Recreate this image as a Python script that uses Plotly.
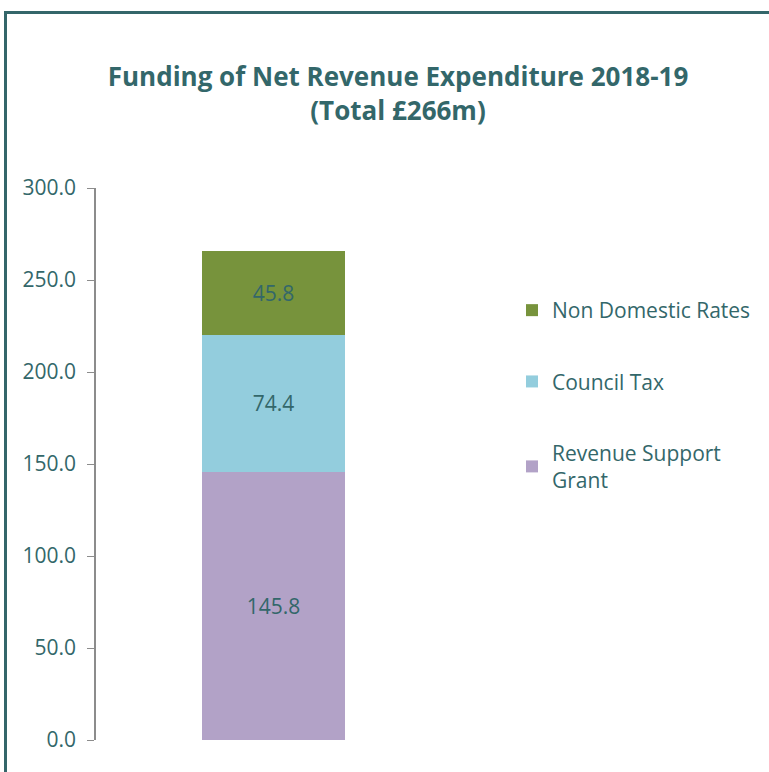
import plotly.graph_objects as go

categories = ["2018-19"]
series_names = ["Revenue Support<br>Grant", "Council Tax", "Non Domestic Rates"]
series_values = [[145.8], [74.4], [45.8]]
series_colors = ["#B2A2C7", "#93CDDD", "#77933C"]
y_ticks = [0, 50, 100, 150, 200, 250, 300]

TEXT = "#33676A"
FONT = "'Open Sans', sans-serif"

W, H = 769, 772
L, R, T, B = 96, 318, 188, 32
pw, ph = W - L - R, H - T - B

def px_x(p):
    return (p - L) / pw

def px_y(p):
    return (H - B - p) / ph

fig = go.Figure()
n = len(series_names)
for i, (name, vals, col) in enumerate(zip(series_names, series_values, series_colors)):
    fig.add_trace(go.Bar(
        x=categories, y=vals, name=name, marker_color=col, marker_line_width=0,
        text=[f"{v:.1f}" for v in vals], textposition="inside", insidetextanchor="middle",
        textfont=dict(color=TEXT, size=21, family=FONT), width=0.403,
        legendgroup=str(i), legendrank=n - i,
    ))

fig.update_layout(
    width=W, height=H, barmode="stack",
    margin=dict(l=L, r=R, t=T, b=B, autoexpand=False),
    paper_bgcolor="white", plot_bgcolor="white",
    font=dict(family=FONT, color=TEXT, size=21),
    title=dict(text="<b>Funding of Net Revenue Expenditure 2018-19<br>(Total £266m)</b>",
               x=px_x(398), xref="paper", xanchor="center", y=1 - 86 / H, yanchor="middle",
               font=dict(size=26, color=TEXT, family=FONT)),
    xaxis=dict(visible=False, range=[-0.5, 0.5]),
    yaxis=dict(range=[0, 300], tickvals=y_ticks, tickformat=".1f", showgrid=False,
               showline=True, linecolor="#8C8C8C", linewidth=1.5, ticks="outside",
               ticklen=7, tickcolor="#8C8C8C", tickfont=dict(size=21, color=TEXT, family=FONT),
               ticklabelstandoff=7, zeroline=False),
    legend=dict(x=px_x(512), xanchor="left", y=px_y(290), yanchor="top",
                traceorder="grouped", tracegroupgap=41,
                font=dict(size=21, color=TEXT, family=FONT), bgcolor="rgba(0,0,0,0)"),
    showlegend=True,
)

BORDER = "#34666A"
fig.add_shape(type="line", xref="paper", yref="paper", x0=px_x(5.5), x1=px_x(5.5),
              y0=px_y(12), y1=px_y(H + 5), line=dict(color=BORDER, width=3))
fig.add_shape(type="line", xref="paper", yref="paper", x0=px_x(4), x1=px_x(W + 5),
              y0=px_y(12.5), y1=px_y(12.5), line=dict(color=BORDER, width=3))

fig.write_html("out.html", config={"displayModeBar": False},
               post_script="document.body.style.margin='0';document.body.style.overflow='hidden';")
